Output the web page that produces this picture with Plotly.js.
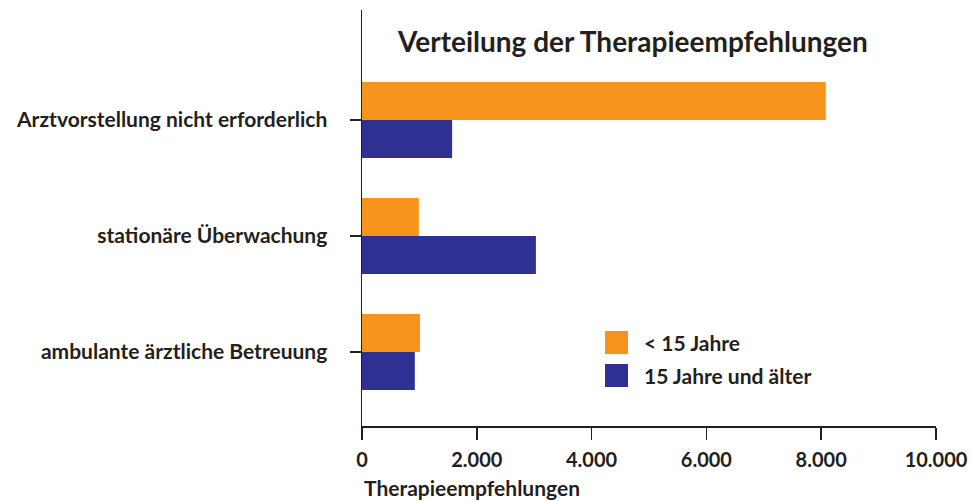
<!DOCTYPE html>
<html>
<head>
<meta charset="utf-8">
<script src="https://cdn.plot.ly/plotly-3.0.1.min.js"></script>
<style>
  html, body { margin: 0; padding: 0; background: #fff; }
  #chart { width: 971px; height: 501px; }
</style>
</head>
<body>
<div id="chart"></div>
<script>
// categories bottom -> top (plotly draws the first category at the bottom)
const categories = [
    'ambulante ärztliche Betreuung',
    'stationäre Überwachung',
    'Arztvorstellung nicht erforderlich'
];
const under15 = [1010, 990, 8080];
const over15 = [920, 3030, 1570];
const seriesNames = ['< 15 Jahre', '15 Jahre und älter'];
const tickValues = [0, 2000, 4000, 6000, 8000, 10000];

const orange = '#F7941D';
const blue = '#2E3192';
const ink = '#231F20';
const font = 'Lato, "Open Sans", sans-serif';

// horizontal groups stack the first trace at the bottom, so the older group goes first
const traces = [
    {
        type: 'bar', orientation: 'h', name: seriesNames[1],
        y: categories, x: over15,
        marker: { color: blue }, showlegend: false, hoverinfo: 'x'
    },
    {
        type: 'bar', orientation: 'h', name: seriesNames[0],
        y: categories, x: under15,
        marker: { color: orange }, showlegend: false, hoverinfo: 'x'
    }
];

// hand-drawn legend (big square swatches like the original)
const legendShapes = [];
const legendNotes = [];
[orange, blue].forEach((c, i) => {
    const top = 0.2284 - i * 0.0794;
    legendShapes.push({
        type: 'rect', xref: 'paper', yref: 'paper',
        x0: 0.4233, x1: 0.4634, y0: top - 0.0553, y1: top,
        fillcolor: c, line: { width: 0 }
    });
    legendNotes.push({
        xref: 'paper', yref: 'paper', x: 0.4878, y: top - 0.0276,
        xanchor: 'left', yanchor: 'middle', showarrow: false,
        text: '<b>' + seriesNames[i].replace('<', '&lt;') + '</b>',
        font: { family: font, size: 21, color: ink }
    });
});

const layout = {
    width: 971, height: 501,
    margin: { l: 362, r: 35, t: 10, b: 75 },
    paper_bgcolor: '#fff', plot_bgcolor: '#fff',
    separators: ',.',
    barmode: 'group',
    bargap: 0.345,
    bargroupgap: 0,
    font: { family: font, size: 21, color: ink },
    title: {
        text: '<b>Verteilung der Therapieempfehlungen</b>',
        font: { family: font, size: 28, color: ink },
        xref: 'paper', x: 0.472, xanchor: 'center',
        yref: 'container', y: 1 - 42 / 501, yanchor: 'middle'
    },
    xaxis: {
        range: [0, 10000], tickvals: tickValues, tickformat: ',d',
        showgrid: false, zeroline: false,
        showline: true, linecolor: ink, linewidth: 1.5,
        ticks: 'outside', ticklen: 12, tickcolor: ink, tickwidth: 1.5,
        tickfont: { family: font, size: 20, color: ink, weight: 'bold' },
        ticklabelstandoff: 3,
        fixedrange: true
    },
    yaxis: {
        range: [-0.638, 2.948],
        showgrid: false, zeroline: false,
        showline: true, linecolor: ink, linewidth: 1.5,
        ticks: 'outside', ticklen: 11, tickcolor: ink, tickwidth: 1.5,
        tickfont: { family: font, size: 21, color: ink, weight: 'bold' },
        ticklabelstandoff: 18,
        fixedrange: true
    },
    shapes: legendShapes,
    annotations: legendNotes.concat([{
        xref: 'paper', yref: 'paper', x: 0, y: -0.147,
        xanchor: 'left', yanchor: 'middle', showarrow: false,
        text: '<b>Therapieempfehlungen</b>',
        font: { family: font, size: 21, color: ink }
    }])
};

Plotly.newPlot('chart', traces, layout, { displayModeBar: false, staticPlot: true });
</script>
</body>
</html>
